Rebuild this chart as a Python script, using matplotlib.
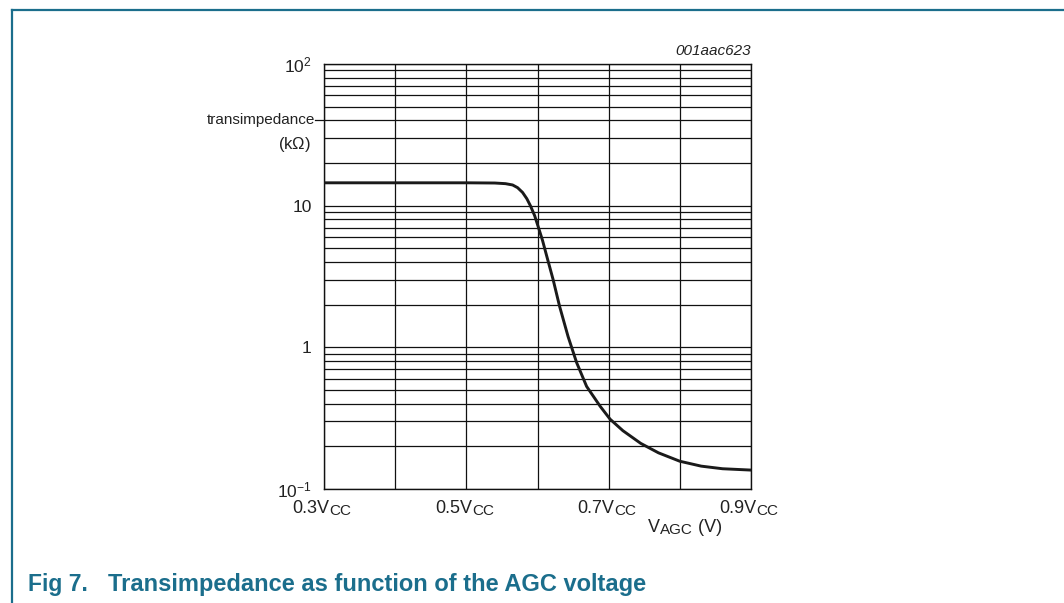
import numpy as np
import matplotlib.pyplot as plt
from matplotlib.ticker import FixedLocator, NullFormatter, LogLocator

plt.rcParams['font.family'] = ['Liberation Sans', 'DejaVu Sans']
plt.rcParams['mathtext.fontset'] = 'custom'
plt.rcParams['mathtext.rm'] = 'Liberation Sans'
plt.rcParams['mathtext.it'] = 'Liberation Sans:italic'

# courbe (V_AGC en fraction de Vcc, transimpedance en kOhm)
v_agc = [0.30, 0.40, 0.50, 0.54, 0.555, 0.565, 0.572, 0.579, 0.585, 0.590,
         0.596, 0.601, 0.607, 0.613, 0.622, 0.631, 0.643, 0.655, 0.669, 0.688,
         0.702, 0.720, 0.745, 0.770, 0.800, 0.830, 0.860, 0.90]
transimp = [14.5, 14.5, 14.5, 14.45, 14.3, 14.0, 13.4, 12.4, 11.2, 10.0,
            8.5, 7.1, 5.7, 4.4, 3.0, 1.95, 1.19, 0.78, 0.53, 0.384,
            0.311, 0.258, 0.210, 0.180, 0.157, 0.145, 0.139, 0.136]

x_ticks = [0.3, 0.5, 0.7, 0.9]
x_main = ['0.3V', '0.5V', '0.7V', '0.9V']
x_sub = 'CC'
y_ticks = [0.1, 1, 10, 100]
y_labels = [r'10$^{\mathregular{-1}}$', '1', '10', r'10$^{\mathregular{2}}$']

teal = '#1b6e8c'
txt = '#222222'

fig = plt.figure(figsize=(10.64, 6.03), dpi=100)
ax = fig.add_axes([324 / 1064, 1 - 489 / 603, 427 / 1064, 425 / 603])

ax.plot(v_agc, transimp, color='#1a1a1a', lw=2.1, solid_capstyle='round',
        solid_joinstyle='round', zorder=3)

ax.set_yscale('log')
ax.set_xlim(0.3, 0.9)
ax.set_ylim(0.1, 100)

ax.xaxis.set_major_locator(FixedLocator(x_ticks))
ax.xaxis.set_minor_locator(FixedLocator([0.4, 0.6, 0.8]))
ax.set_xticklabels([])
ax.yaxis.set_major_locator(FixedLocator(y_ticks))
ax.yaxis.set_minor_locator(LogLocator(base=10, subs=np.arange(2, 10)))
ax.yaxis.set_minor_formatter(NullFormatter())
ax.set_yticklabels(y_labels)

ax.tick_params(which='both', length=0, labelsize=12.5, colors=txt)
ax.tick_params(axis='y', pad=9)
ax.grid(which='both', color='#111111', lw=0.9)
for s in ax.spines.values():
    s.set_color('#111111')
    s.set_linewidth(1.0)

# etiquettes de l'axe x avec indice CC
for xv, lab in zip(x_ticks, x_main):
    t = ax.annotate(lab, xy=(xv, 0), xycoords=('data', 'axes fraction'),
                    xytext=(4.0, -8), textcoords='offset points',
                    ha='right', va='top', fontsize=13, color=txt)
    ax.annotate(x_sub, xy=(1, 0), xycoords=t, xytext=(0, -0.8),
                textcoords='offset points', ha='left', va='bottom',
                fontsize=11, color=txt)

# titres des axes
ax.text(-0.02, 40, 'transimpedance', transform=ax.get_yaxis_transform(),
        ha='right', va='center', fontsize=11, color=txt)
ax.plot([-0.02, 0], [40, 40], transform=ax.get_yaxis_transform(),
        color='#111111', lw=0.9, clip_on=False)
ax.text(-0.03, 27, r'(k$\Omega$)', transform=ax.get_yaxis_transform(),
        ha='right', va='center', fontsize=12, color=txt)

v = ax.annotate('V', xy=(0.759, 0), xycoords='axes fraction', xytext=(0, -21.5),
                textcoords='offset points', ha='left', va='top', fontsize=13, color=txt)
agc = ax.annotate('AGC', xy=(1, 0), xycoords=v, xytext=(0, -0.8),
                  textcoords='offset points', ha='left', va='bottom', fontsize=11, color=txt)
ax.annotate(' (V)', xy=(1, 0), xycoords=(agc, v), xytext=(0, 0),
            textcoords='offset points', ha='left', va='bottom', fontsize=13, color=txt)

ax.text(1.0, 1 + 13 / 425, '001aac623', transform=ax.transAxes, ha='right',
        va='center', fontsize=11, style='italic', color=txt)

# cadre et legende de la figure
fig.add_artist(plt.Line2D([11.5 / 1064, 11.5 / 1064], [0, 1 - 9.5 / 603],
                          color=teal, lw=1.6))
fig.add_artist(plt.Line2D([11.5 / 1064, 1], [1 - 9.5 / 603, 1 - 9.5 / 603],
                          color=teal, lw=1.6))
fig.text(28 / 1064, 1 - 584 / 603, 'Fig 7.', ha='left', va='center',
         fontsize=16.5, fontweight='bold', color=teal)
fig.text(108 / 1064, 1 - 584 / 603, 'Transimpedance as function of the AGC voltage',
         ha='left', va='center', fontsize=17, fontweight='bold', color=teal)

plt.savefig('out.png', dpi=100)
